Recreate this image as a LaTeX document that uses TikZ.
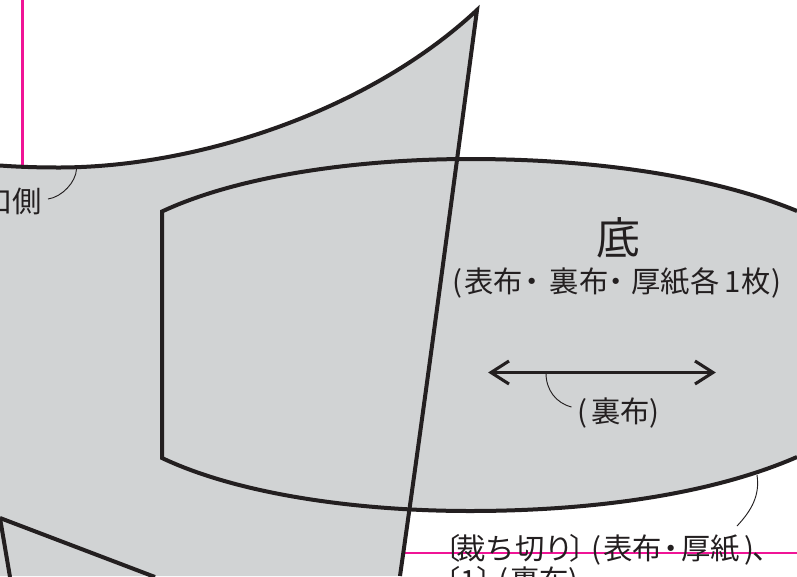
\documentclass[tikz,border=0pt]{standalone}
\usepackage{fontspec}
\newfontfamily\cjk{Noto Sans CJK JP}
\definecolor{pgray}{RGB}{209,211,212}
\definecolor{pink}{RGB}{240,20,150}
\definecolor{ink}{RGB}{35,31,32}
\newcommand\kp[1]{\kern#1pt\relax}
\tikzset{
  outline/.style={draw=ink,line width=3pt,line join=miter},
  leader/.style={draw=ink,line width=0.7pt},
  guide/.style={draw=pink,line width=1.9pt},
  lab/.style={font=\cjk\fontsize{22pt}{24pt}\selectfont,text=ink,inner sep=0pt,anchor=west},
  arrowline/.style={draw=ink,line width=2.3pt,line join=miter},
}
\begin{document}
\begin{tikzpicture}[x=0.75pt,y=-0.75pt]
\useasboundingbox (0,0) rectangle (797,576);
\clip (0,0) rectangle (797,576);
\fill[white] (0,0) rectangle (797,576);
\draw[guide] (22.5,0) -- (22.5,166);
\draw[guide] (405,553) -- (797,553);
% main piece
\fill[pgray] (0,165.5) .. controls (20,167) and (40,167.5) .. (60,167.5)
  .. controls (200,167) and (370,110) .. (477,10)
  .. controls (452,197) and (427,387) .. (400,576) -- (0,576) -- cycle;
% base piece
\fill[pgray] (162,211.5) .. controls (240,175) and (360,159) .. (470,159)
  .. controls (590,159) and (710,175) .. (797,211)
  -- (797,457) .. controls (710,495) and (590,511) .. (470,511)
  .. controls (360,511) and (240,495) .. (162,458) -- cycle;
\draw[outline] (0,165.5) .. controls (20,167) and (40,167.5) .. (60,167.5)
  .. controls (200,167) and (370,110) .. (477,10)
  .. controls (452,197) and (427,387) .. (400,576);
\draw[outline] (797,211) .. controls (710,175) and (590,159) .. (470,159)
  .. controls (360,159) and (240,175) .. (162,211.5)
  -- (162,458) .. controls (240,495) and (360,511) .. (470,511)
  .. controls (590,511) and (710,495) .. (797,457);
\draw[outline] (0,518) -- (155,577);
\draw[outline] (0,518) -- (10,577);
% arrow
\coordinate (arL) at (491,372.5);
\coordinate (arR) at (713,372.5);
\draw[arrowline] (arL) -- (arR);
\draw[arrowline] (509,361) -- (arL) -- (509,384);
\draw[arrowline] (695,361) -- (arR) -- (695,384);
% labels
\node[lab,font=\cjk\fontsize{33pt}{33pt}\selectfont] (base) at (596,238) {底};
\node[lab] (parts) at (452,283) {(\kp{1.5}表布\kp{-4}・\kp{2.2}裏布\kp{-5.3}・\kp{0.5}厚紙各\kp{3.75}1\kp{1}枚)};
\node[lab] (lining) at (577,413) {(\kp{3}裏布)};
\node[lab,anchor=east] (side) at (42,201.5) {口側};
\node[lab] (cut) at (431,550) {〔\kp{-3}裁ち切り\kp{-3}〕\kp{-6}(\kp{1.5}表布\kp{-3.75}・\kp{-3.75}厚紙\kp{3.75})\kp{-1.5}、};
\node[lab] (cut2) at (431,582) {〔1〕\kp{-6}(\kp{1.5}裏布)};
% leaders
\coordinate (a) at (546,373);
\coordinate (b) at (76.5,169);
\coordinate (c) at (757,475);
\draw[leader] (a) .. controls (546,390) and (556,403) .. (571.5,407);
\draw[leader] (b) .. controls (76,182) and (62,197) .. (48,199);
\draw[leader] (c) .. controls (760,495) and (752,510) .. (737,526);
\end{tikzpicture}
\end{document}
